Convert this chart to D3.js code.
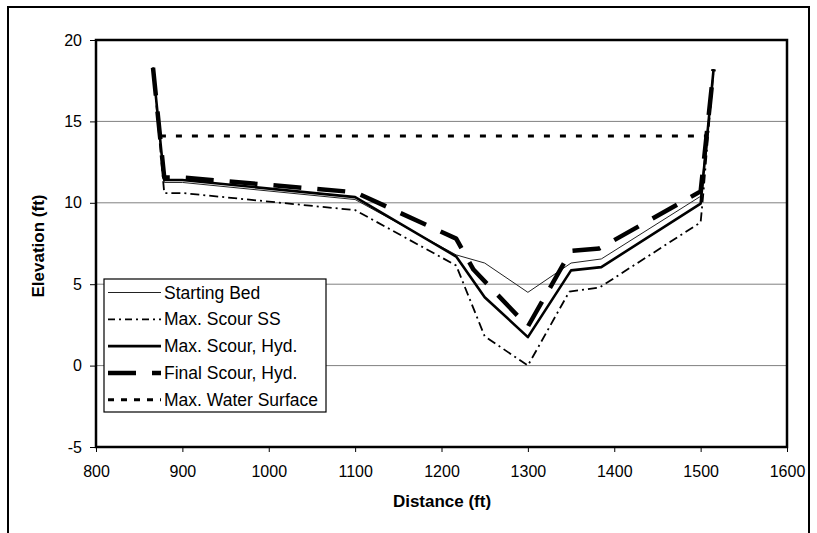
<!DOCTYPE html>
<html>
<head>
<meta charset="utf-8">
<script src="https://cdn.jsdelivr.net/npm/d3@7"></script>
<style>
  html, body { margin: 0; padding: 0; background: #fff; }
  svg { display: block; font-family: "Liberation Sans", Arial, sans-serif; }
</style>
</head>
<body>
<svg id="chart" width="817" height="533"></svg>
<script>
// ---- data ----
const xTicks = [800, 900, 1000, 1100, 1200, 1300, 1400, 1500, 1600];
const yTicks = [-5, 0, 5, 10, 15, 20];
const gridValues = [0, 5, 10, 15];

const startingBedX = [866, 879, 900, 1100, 1217, 1250, 1300, 1350, 1385, 1500, 1515];
const startingBedY = [18.3, 11.25, 11.25, 10.2, 6.8, 6.3, 4.5, 6.3, 6.55, 10.4, 18.2];

const scourSSX = [866, 879, 900, 1100, 1217, 1250, 1300, 1348, 1383, 1500, 1503, 1515];
const scourSSY = [18.3, 10.6, 10.6, 9.55, 6.15, 1.8, 0.0, 4.55, 4.8, 8.8, 10.5, 18.2];

const scourHydX = [866, 879, 900, 1100, 1217, 1250, 1300, 1350, 1385, 1500, 1515];
const scourHydY = [18.3, 11.4, 11.4, 10.35, 6.7, 4.2, 1.75, 5.85, 6.05, 9.95, 18.2];

const finalScourX = [866, 879, 900, 1100, 1217, 1237, 1300, 1350, 1383, 1500, 1515];
const finalScourY = [18.3, 11.55, 11.55, 10.65, 7.8, 5.9, 2.4, 7.05, 7.2, 10.7, 18.2];

const waterX = [874, 1507];
const waterY = [14.1, 14.1];

const seriesNames = ["Starting Bed", "Max. Scour SS", "Max. Scour, Hyd.", "Final Scour, Hyd.", "Max. Water Surface"];

// ---- layout ----
const svg = d3.select("#chart");
const pLeft = 96, pRight = 787, pTop = 40, pBottom = 447;
const x = d3.scaleLinear().domain([800, 1600]).range([pLeft, pRight]);
const y = d3.scaleLinear().domain([-5, 20]).range([pBottom, pTop]);

// outer chart border
svg.append("rect").attr("x", 8).attr("y", 7).attr("width", 801).attr("height", 540)
  .attr("fill", "none").attr("stroke", "#000").attr("stroke-width", 2);

// gridlines
svg.append("g").selectAll("line").data(gridValues).join("line")
  .attr("x1", pLeft).attr("x2", pRight)
  .attr("y1", d => y(d)).attr("y2", d => y(d))
  .attr("stroke", "#808080").attr("stroke-width", 1);

// axes
const fmt = d => String(d);
const yAxis = svg.append("g").attr("transform", `translate(${pLeft},0)`)
  .call(d3.axisLeft(y).tickValues(yTicks).tickSize(6).tickPadding(8).tickFormat(fmt));
const xAxis = svg.append("g").attr("transform", `translate(0,${pBottom})`)
  .call(d3.axisBottom(x).tickValues(xTicks).tickSize(5).tickPadding(14).tickFormat(fmt));
[yAxis, xAxis].forEach(g => {
  g.select(".domain").remove();
  g.selectAll(".tick line").attr("stroke", "#000").attr("stroke-width", 1);
  g.selectAll(".tick text").attr("font-size", 16).attr("fill", "#000")
    .attr("font-family", "'Liberation Sans', Arial, sans-serif");
});

// plot border
svg.append("rect").attr("x", pLeft).attr("y", pTop).attr("width", pRight - pLeft).attr("height", pBottom - pTop)
  .attr("fill", "none").attr("stroke", "#000").attr("stroke-width", 2.5);

// axis titles
svg.append("text").attr("x", 442).attr("y", 507).attr("text-anchor", "middle")
  .attr("font-size", 17).attr("font-weight", "bold").text("Distance (ft)");
svg.append("text").attr("transform", "translate(44,246) rotate(-90)").attr("text-anchor", "middle")
  .attr("font-size", 17).attr("font-weight", "bold").text("Elevation (ft)");

// series
const styles = [
  { w: 1, dash: null, color: "#222" },
  { w: 1.8, dash: "9,4,2,4", color: "#000" },
  { w: 2.6, dash: null, color: "#000" },
  { w: 4.5, dash: "28,16", color: "#000" },
  { w: 3, dash: "6,10", color: "#000" }
];
const seriesX = [startingBedX, scourSSX, scourHydX, finalScourX, waterX];
const seriesY = [startingBedY, scourSSY, scourHydY, finalScourY, waterY];
const line = d3.line().x(d => x(d[0])).y(d => y(d[1]));

seriesX.forEach((xs, i) => {
  const pts = xs.map((v, j) => [v, seriesY[i][j]]);
  svg.append("path").datum(pts).attr("d", line)
    .attr("fill", "none").attr("stroke", styles[i].color)
    .attr("stroke-width", styles[i].w)
    .attr("stroke-dasharray", styles[i].dash)
    .attr("stroke-linejoin", "round");
});

// legend
const lg = svg.append("g");
lg.append("rect").attr("x", 104).attr("y", 279).attr("width", 222).attr("height", 133)
  .attr("fill", "#fff").attr("stroke", "#000").attr("stroke-width", 1.2);
const legendDash = [null, "7,4,2,4", null, "28,16", "6,7"];
seriesNames.forEach((name, i) => {
  const cy = 292.5 + i * 26.8;
  lg.append("line").attr("x1", 108).attr("x2", 161).attr("y1", cy).attr("y2", cy)
    .attr("stroke", styles[i].color).attr("stroke-width", styles[i].w)
    .attr("stroke-dasharray", legendDash[i]);
  lg.append("text").attr("x", 164).attr("y", cy).attr("dy", "0.35em")
    .attr("font-size", 17.5).text(name);
});
</script>
</body>
</html>
